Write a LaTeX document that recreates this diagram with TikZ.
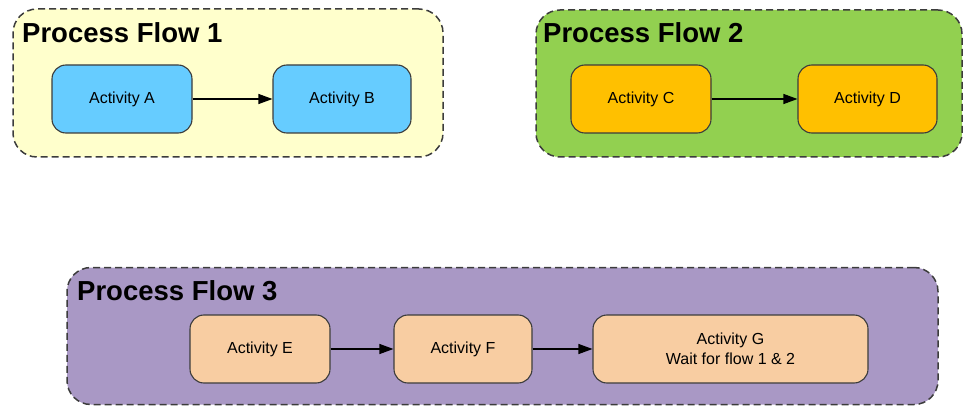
\documentclass[tikz,border=0pt]{standalone}
\usepackage{fontspec}
\setmainfont{Liberation Sans}
\usepackage{tikz}
\usetikzlibrary{arrows.meta}

\definecolor{flowyellow}{HTML}{FFFFCC}
\definecolor{flowgreen}{HTML}{92D050}
\definecolor{flowpurple}{HTML}{A998C5}
\definecolor{actblue}{HTML}{66CCFF}
\definecolor{actorange}{HTML}{FFC000}
\definecolor{actpeach}{HTML}{F8CDA2}
\definecolor{borderdark}{HTML}{3C3C3C}

\begin{document}
\begin{tikzpicture}[x=1pt,y=-1pt]
    \newcommand{\actheight}[0]{68pt}
    \newcommand{\actwidth}[0]{140pt}

    \tikzstyle{dedge} = [line width=1.1pt,-{Triangle[length=14pt,width=10pt]},draw=black]

    \tikzstyle{flow}=[
      rectangle,
      draw=borderdark,
      line width=1.5pt,
      dash pattern=on 7pt off 4pt,
      rounded corners=24pt,
      inner sep=0pt,
    ]
    \tikzstyle{flowtitle}=[
      anchor=base west,
      inner sep=0pt,
      font=\fontsize{27.5}{30}\selectfont\bfseries,
    ]
    \tikzstyle{activity}=[
      rectangle,
      draw=borderdark,
      line width=1.1pt,
      rounded corners=14pt,
      inner sep=0pt,
      minimum height=\actheight,
      minimum width=\actwidth,
      align=center,
      font=\fontsize{16}{20}\selectfont,
    ]

    \useasboundingbox (0,0) rectangle (966,406);

    % containers
    \node[flow,fill=flowyellow,minimum width=430pt,minimum height=148pt] (flowone) at (228,83) {};
    \node[flow,fill=flowgreen,minimum width=426pt,minimum height=147pt] (flowtwo) at (749,83.5) {};
    \node[flow,fill=flowpurple,minimum width=871pt,minimum height=137pt] (flowthree) at (502.5,336) {};

    \node[flowtitle] (flowonetitle) at (22,43) {Process Flow 1};
    \node[flowtitle] (flowtwotitle) at (543,43) {Process Flow 2};
    \node[flowtitle] (flowthreetitle) at (77,300) {Process Flow 3};

    % activities
    \node[activity,fill=actblue] (activitya) at (122,99) {Activity A};
    \node[activity,fill=actblue,minimum width=138pt] (activityb) at (342,99) {Activity B};
    \node[activity,fill=actorange] (activityc) at (641,99) {Activity C};
    \node[activity,fill=actorange,minimum width=139pt] (activityd) at (867.5,99) {Activity D};
    \node[activity,fill=actpeach] (activitye) at (260,349) {Activity E};
    \node[activity,fill=actpeach,minimum width=138pt] (activityf) at (463,349) {Activity F};
    \node[activity,fill=actpeach,minimum width=275pt] (activityg) at (730.5,349) {Activity G\\Wait for flow 1 \& 2};

    \draw[dedge] (activitya) -- (activityb);
    \draw[dedge] (activityc) -- (activityd);
    \draw[dedge] (activitye) -- (activityf);
    \draw[dedge] (activityf) -- (activityg);
\end{tikzpicture}
\end{document}
